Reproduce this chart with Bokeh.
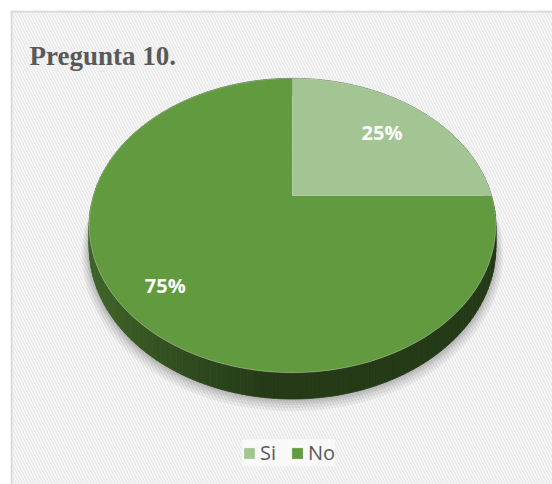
import numpy as np
from bokeh.plotting import figure
from bokeh.models import Range1d, Span, Legend, LegendItem, ColumnDataSource
from bokeh.core.properties import value
from bokeh.embed import file_html
from bokeh.resources import INLINE

# ---- data ----
title_text = "Pregunta 10."
categories = ["Si", "No"]
values = [25, 75]
colors = ["#a2c593", "#629a3f"]
label_radius = [0.7, 0.8]

# ---- layout ----
W, H = 552, 484
X0, Y0 = 10, 10          # frame top-left (pixels)
X1, Y1 = W, H            # frame bottom-right (pixels)

p = figure(width=W, height=H, output_backend="svg", toolbar_location=None,
           x_range=Range1d(X0, X1), y_range=Range1d(Y1, Y0),
           x_axis_type=None, y_axis_type=None,
           min_border_left=X0, min_border_top=Y0, min_border_right=0, min_border_bottom=0)
p.outline_line_color = None
p.background_fill_color = "white"
p.border_fill_color = "white"
for g in p.grid:
    g.visible = False

# hatched background
p.quad(left=[X0], right=[X1], top=[Y0], bottom=[Y1], fill_color="#ffffff", line_color=None,
       hatch_pattern="\\", hatch_color="#ebebeb", hatch_alpha=1.0, hatch_scale=6, hatch_weight=2)
# chart border (left/top visible)
p.add_layout(Span(location=X0 + 1, dimension="height", line_color="#d9d9d9", line_width=2))
p.add_layout(Span(location=Y0 + 1, dimension="width", line_color="#d9d9d9", line_width=2))

# ---- pie geometry (perspective 3D) ----
cx, cy = 292, 195
A, B, K, T = 199, 141, 0.204, 21


def proj(th, r=1.0):
    X = r * np.cos(th)
    Y = r * np.sin(th)
    s = 1.0 / (1.0 + K * Y)
    return cx + A * X * s, cy - B * Y * s, s


def hex_to_rgb(h):
    h = h.lstrip("#")
    return tuple(int(h[i:i + 2], 16) for i in (0, 2, 4))


def shade(h, f):
    r, g, b = hex_to_rgb(h)
    return "#%02x%02x%02x" % (int(r * f), int(g * f), int(b * f))


total = float(sum(values))
cum = np.concatenate([[0], np.cumsum(values)])
starts = np.pi / 2 - 2 * np.pi * cum[:-1] / total
ends = np.pi / 2 - 2 * np.pi * cum[1:] / total

# soft shadow under the pie
th_all = np.linspace(0, 2 * np.pi, 240)
for d in [12, 9, 6, 4, 2]:
    Xc, Yc = np.cos(th_all), np.sin(th_all)
    s = 1.0 / (1.0 + K * Yc)
    xs = cx + (A + d * 0.6) * Xc * s
    ys = cy - (B + d * 0.4) * Yc * s + T * s + d * 0.5
    p.patch(xs, ys, fill_color="black", fill_alpha=0.05, line_color=None)

# side walls
for i in range(len(values)):
    n = max(8, int(abs(ends[i] - starts[i]) / (2 * np.pi) * 240))
    th = np.linspace(starts[i], ends[i], n + 1)
    xs_list, ys_list, cols = [], [], []
    for j in range(n):
        xa, ya, sa = proj(th[j])
        xb, yb, sb = proj(th[j + 1])
        xm = np.cos(0.5 * (th[j] + th[j + 1]))
        f = 0.38 + 0.26 * np.clip((-xm - 0.1) / 0.75, 0, 1)
        xs_list.append([xa, xb, xb, xa])
        ys_list.append([ya, yb, yb + T * sb, ya + T * sa])
        cols.append(shade(colors[i], f))
    p.patches(xs=xs_list, ys=ys_list, fill_color=cols, line_color=cols, line_width=0.8)

# top faces
renderers = []
for i in range(len(values)):
    n = max(8, int(abs(ends[i] - starts[i]) / (2 * np.pi) * 360))
    th = np.linspace(starts[i], ends[i], n + 1)
    ax, ay, _ = proj(th)
    xs = np.concatenate([[cx], ax])
    ys = np.concatenate([[cy], ay])
    r = p.patch(xs, ys, fill_color=colors[i], line_color="white", line_alpha=0.3, line_width=1)
    renderers.append(r)

# data labels
mids = 0.5 * (starts + ends)
lx, ly = [], []
for i in range(len(values)):
    x, y, _ = proj(mids[i], label_radius[i])
    lx.append(x)
    ly.append(y)
lab_src = ColumnDataSource(dict(x=lx, y=ly, t=["%d%%" % round(100 * v / total) for v in values]))
p.text(x="x", y="y", text="t", source=lab_src, text_color="white",
       text_font=value("Open Sans"), text_font_style="bold", text_font_size="20px",
       text_align="center", text_baseline="middle")

# title
p.text(x=[29], y=[55], text=[title_text], text_color="#595959",
       text_font=value("Liberation Serif"), text_font_style="bold", text_font_size="27px",
       text_align="left", text_baseline="alphabetic")

# legend
legend = Legend(items=[LegendItem(label=categories[i], renderers=[renderers[i]]) for i in range(len(values))],
                orientation="horizontal", location=(232, 18),
                glyph_width=14, glyph_height=14,
                label_text_font="Open Sans", label_text_font_size="20px", label_text_color="#595959",
                spacing=10, padding=14, label_standoff=4, margin=0,
                background_fill_color="white", background_fill_alpha=0.6, border_line_color=None)
p.add_layout(legend)

open("out.html", "w").write(file_html(p, INLINE))
